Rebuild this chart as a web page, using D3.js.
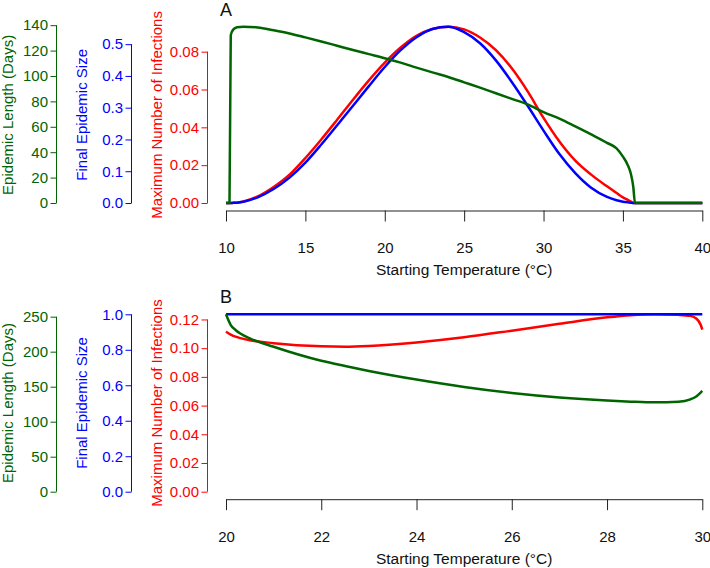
<!DOCTYPE html>
<meta charset="utf-8">
<title>Epidemic outcome vs starting temperature</title>
<script src="https://d3js.org/d3.v7.min.js"></script>
<style>
  body { margin: 0; background: #fff; }
  text { font-family: "Liberation Sans", Arial, sans-serif; }
</style>
<body>
<script>

// Panel A: starting temperature 10-40 C
var tempA = [10, 10.22, 10.3, 10.45, 10.7, 11.1, 12, 13, 14, 15, 16, 17, 18, 19, 20, 21, 22, 23, 24, 25,
             26, 27, 28, 29, 30, 31, 32, 33, 34, 34.6, 35, 35.3, 35.5, 35.65, 35.76, 36, 38, 40];
var lengthA = [0, 0, 132, 136.5, 138.3, 138.8, 138.2, 136, 133.5, 130.4, 127.2, 123.8, 120.4, 117.2, 114, 110.5,
               106.6, 102.8, 99.2, 95, 90.8, 86.4, 82, 77.6, 71.5, 66.4, 60.3, 54, 47.4, 43, 36.5, 30, 23, 13, 0, 0, 0, 0];
var sizeA = [0, 0, 0, 0.0005, 0.001, 0.004, 0.018, 0.044, 0.080, 0.127, 0.184, 0.245, 0.306, 0.368, 0.428, 0.481,
             0.522, 0.548, 0.555, 0.538, 0.503, 0.449, 0.381, 0.306, 0.228, 0.154, 0.094, 0.048, 0.019, 0.0085,
             0.004, 0.002, 0.001, 0, 0, 0, 0, 0];
var maxInfA = [0, 0, 0, 0.0001, 0.0002, 0.0008, 0.0035, 0.0085, 0.0150, 0.0238, 0.0336, 0.0440, 0.0546, 0.0648,
               0.0742, 0.0822, 0.0884, 0.0920, 0.0932, 0.0918, 0.0875, 0.0808, 0.0712, 0.0590, 0.0450, 0.0325,
               0.0224, 0.0150, 0.0088, 0.0053, 0.0030, 0.0017, 0.0008, 0, 0, 0, 0, 0];

// Panel B: starting temperature 20-30 C
var tempB = [20, 20.1, 20.2, 20.3, 20.5, 21, 22, 22.5, 23, 24, 25, 26, 27, 28, 28.5, 29, 29.5, 29.75, 29.88, 29.97, 30];
var lengthB = [253.4, 238, 231, 226, 219, 207, 187, 179.5, 172.5, 160.2, 149.6, 141, 134.6, 130.2, 128.6, 127.6,
               128.5, 132, 136.5, 142, 144];
var sizeB = [1, 1, 1, 1, 1, 1, 1, 1, 1, 1, 1, 1, 1, 1, 1, 1, 1, 1, 1, 1, 1];
var maxInfB = [0.1115, 0.1095, 0.1080, 0.1070, 0.1055, 0.1035, 0.1013, 0.1010, 0.1015, 0.1040, 0.1076, 0.1122,
               0.1170, 0.1215, 0.1230, 0.1236, 0.1232, 0.1225, 0.1205, 0.1160, 0.1130];

// tick values
var xTicksA = [10, 15, 20, 25, 30, 35, 40];
var xTicksB = [20, 22, 24, 26, 28, 30];
var lengthTicksA = [0, 20, 40, 60, 80, 100, 120, 140];
var sizeTicksA = [0, 0.1, 0.2, 0.3, 0.4, 0.5];
var maxTicksA = [0, 0.02, 0.04, 0.06, 0.08];
var lengthTicksB = [0, 50, 100, 150, 200, 250];
var sizeTicksB = [0, 0.2, 0.4, 0.6, 0.8, 1.0];
var maxTicksB = [0, 0.02, 0.04, 0.06, 0.08, 0.10, 0.12];

var GREEN = "#006400", BLUE = "#0000ff", RED = "#ff0000";

var w = 710, h = 568;
var svg = d3.select("body").append("svg")
    .attr("width", w)
    .attr("height", h);

function drawPanel(p) {
  var x = d3.scaleLinear().domain(d3.extent(p.temp)).range([226, 702.3]);

  var yLen = d3.scaleLinear().domain([0, d3.max(p.length)]).range([p.yBase, p.yTop]);
  var ySize = d3.scaleLinear().domain([0, d3.max(p.size)]).range([p.yBase, p.yTop]);
  var yMax = d3.scaleLinear().domain([0, d3.max(p.maxInf)]).range([p.yBase, p.yTop]);

  var g = svg.append("g");

  // one left axis per series
  var axes = [
    { scale: yLen, ticks: p.lenTicks, fmt: d3.format("d"), col: GREEN, at: 56.5, title: "Epidemic Length (Days)", tx: 8 },
    { scale: ySize, ticks: p.sizeTicks, fmt: d3.format(".1f"), col: BLUE, at: 131.5, title: "Final Epidemic Size", tx: 82 },
    { scale: yMax, ticks: p.maxTicks, fmt: d3.format(".2f"), col: RED, at: 207.5, title: "Maximum Number of Infections", tx: 157 }
  ];
  var midY = (p.yBase + p.yTop) / 2;

  axes.forEach(function(a) {
    var ax = g.append("g")
      .attr("transform", "translate(" + a.at + ",0)")
      .call(d3.axisLeft(a.scale).tickValues(a.ticks).tickFormat(a.fmt)
              .tickSize(6).tickSizeOuter(0).tickPadding(2.5));
    ax.select(".domain").remove();
    ax.append("line")
      .attr("y1", a.scale(a.ticks[0]))
      .attr("y2", a.scale(a.ticks[a.ticks.length - 1]))
      .attr("stroke", a.col);
    ax.selectAll(".tick line").attr("stroke", a.col);
    ax.selectAll(".tick text")
      .attr("fill", a.col)
      .attr("font-size", 15)
      .attr("font-family", "Liberation Sans, Arial, sans-serif");

    g.append("text")
      .attr("transform", "translate(" + a.tx + "," + midY + ") rotate(-90)")
      .attr("text-anchor", "middle")
      .attr("dy", "0.35em")
      .attr("fill", a.col)
      .attr("font-size", 15)
      .text(a.title);
  });

  // bottom axis
  var axisY = p.yBase + 7.5;
  var xa = g.append("g")
    .attr("transform", "translate(0," + axisY + ")")
    .call(d3.axisBottom(x).tickValues(p.xTicks).tickSize(11).tickSizeOuter(0).tickPadding(21));
  xa.select(".domain").attr("stroke", "#222");
  xa.selectAll(".tick line").attr("stroke", "#222");
  xa.selectAll(".tick text")
    .attr("fill", "#111")
    .attr("font-size", 15)
    .attr("font-family", "Liberation Sans, Arial, sans-serif");

  g.append("text")
    .attr("x", (226 + 702.3) / 2)
    .attr("y", axisY + 64.5)
    .attr("text-anchor", "middle")
    .attr("font-size", 15.5)
    .attr("fill", "#111")
    .text("Starting Temperature (\u00B0C)");

  g.append("text")
    .attr("x", 226)
    .attr("y", p.yTop - 11.2)
    .attr("text-anchor", "middle")
    .attr("font-size", 18)
    .attr("fill", "#111")
    .text(p.label);

  // curves: red, blue, then green on top
  var series = [
    { vals: p.maxInf, scale: yMax, col: RED },
    { vals: p.size, scale: ySize, col: BLUE },
    { vals: p.length, scale: yLen, col: GREEN }
  ];
  series.forEach(function(s) {
    var line = d3.line()
      .x(function(d, i) { return x(p.temp[i]); })
      .y(function(d) { return s.scale(d); })
      .curve(d3.curveMonotoneX);
    g.append("path")
      .datum(s.vals)
      .attr("fill", "none")
      .attr("stroke", s.col)
      .attr("stroke-width", 2.5)
      .attr("stroke-linejoin", "round")
      .attr("d", line);
  });
}

drawPanel({
  label: "A", temp: tempA, length: lengthA, size: sizeA, maxInf: maxInfA,
  xTicks: xTicksA, lenTicks: lengthTicksA, sizeTicks: sizeTicksA, maxTicks: maxTicksA,
  yBase: 203, yTop: 26.7
});

drawPanel({
  label: "B", temp: tempB, length: lengthB, size: sizeB, maxInf: maxInfB,
  xTicks: xTicksB, lenTicks: lengthTicksB, sizeTicks: sizeTicksB, maxTicks: maxTicksB,
  yBase: 491.7, yTop: 314.3
});

</script>
</body>
